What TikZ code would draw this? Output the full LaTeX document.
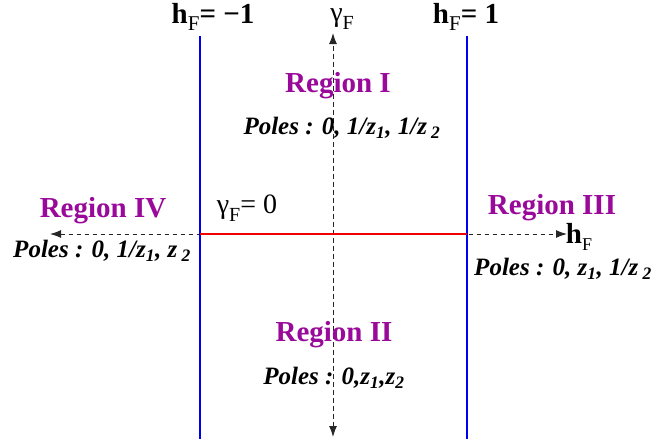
\documentclass[tikz,border=0pt]{standalone}
\usepackage{fontspec}
\setmainfont{Liberation Serif}
\usetikzlibrary{arrows.meta,positioning}
\definecolor{regpurple}{HTML}{9A0A9A}
\definecolor{wallblue}{HTML}{0000F0}
\definecolor{cutred}{HTML}{F00000}
\tikzset{
  reg/.style  ={text=regpurple, font=\fontsize{29}{32}\selectfont\bfseries, inner sep=0pt},
  pol/.style  ={font=\fontsize{25}{28}\selectfont\bfseries\itshape, inner sep=0pt},
  axl/.style  ={font=\fontsize{28}{32}\selectfont, inner sep=0pt},
  hlbl/.style ={font=\fontsize{29}{32}\selectfont\bfseries, inner sep=0pt},
  axis/.style ={{Latex[length=11pt,width=8pt]}-{Latex[length=11pt,width=8pt]},
                line width=1pt, draw=black!85, dash pattern=on 4.5pt off 3.5pt},
  wall/.style ={line width=2.4pt, draw=wallblue},
  cut/.style  ={line width=2.4pt, draw=cutred}
}

\begin{document}
\begin{tikzpicture}[x=1pt,y=-1pt]
  \useasboundingbox (0,0) rectangle (651,439);

  % axes
  \coordinate (gtop) at (333,33);  \coordinate (gbot) at (333,437);
  \coordinate (hlft) at (50,234);  \coordinate (hrgt) at (567,234);
  \draw[axis] (gbot)--(gtop);
  \draw[axis] (hlft)--(hrgt);

  % walls h_F = -1, 1 and the cut gamma_F = 0
  \coordinate (wlt) at (200,36);  \coordinate (wlb) at (200,439);
  \coordinate (wrt) at (467,36);  \coordinate (wrb) at (467,439);
  \coordinate (clt) at (200,234); \coordinate (crt) at (467,234);
  \draw[wall] (wlt)--(wlb);
  \draw[wall] (wrt)--(wrb);
  \draw[cut] (clt)--(crt);

  \node[hlbl] (hm) at (213,17) {h\raisebox{-0.55ex}{\mdseries\fontsize{21}{24}\selectfont F}= −1};
  \node[hlbl] (hp) at (466,17) {h\raisebox{-0.55ex}{\mdseries\fontsize{21}{24}\selectfont F}= 1};
  \node[axl] (gl) at (342,19) {γ\raisebox{-0.6ex}{\fontsize{20}{23}\selectfont F}};
  \node[axl] (gz) at (247,208) {γ\raisebox{-0.6ex}{\fontsize{20}{23}\selectfont F}= 0};
  \node[hlbl] (hl) at (579,237) {h\raisebox{-0.5ex}{\mdseries\fontsize{18}{21}\selectfont F}};

  % regions
  \node[reg] (r1) at (338,86)  {Region I};
  \node[pol] (p1) at (342,128) {Poles : 0, 1/z\textsubscript{1}, 1/z\,\textsubscript{2}};
  \node[reg] (r4) at (103,211) {Region IV};
  \node[pol] (p4) at (102,251) {Poles : 0, 1/z\textsubscript{1}, z\,\textsubscript{2}};
  \node[reg] (r3) at (552,208) {Region III};
  \node[pol] (p3) at (563,269) {Poles : 0, z\textsubscript{1}, 1/z\,\textsubscript{2}};
  \node[reg] (r2) at (334,335) {Region II};
  \node[pol] (p2) at (334,378) {Poles : 0,z\textsubscript{1},z\textsubscript{2}};
\end{tikzpicture}
\end{document}
